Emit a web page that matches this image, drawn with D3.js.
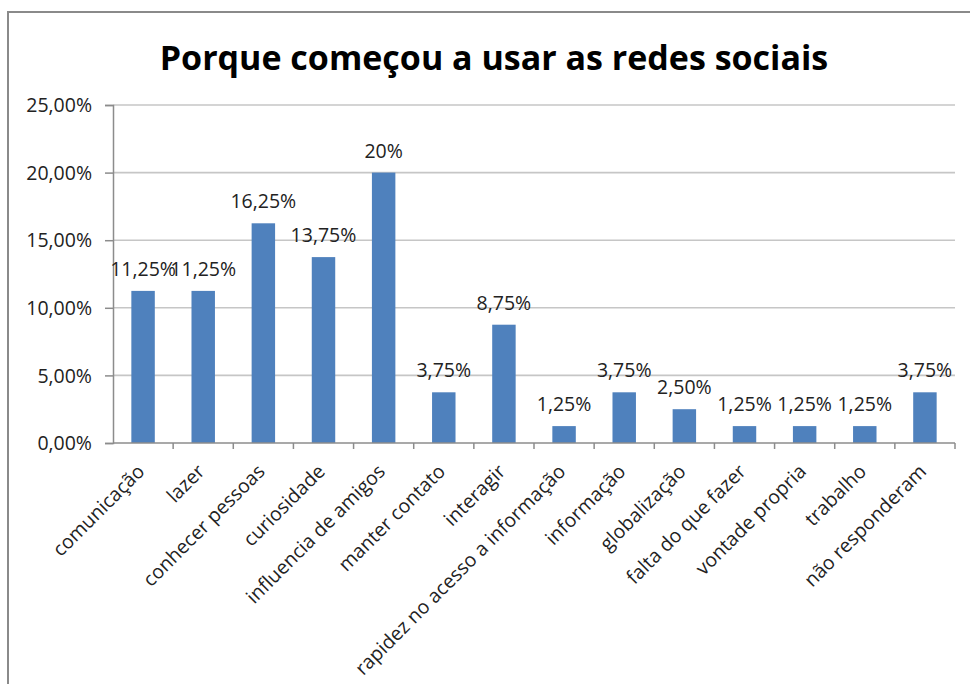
<!DOCTYPE html>
<html>
<head>
<meta charset="utf-8">
<script src="https://cdn.jsdelivr.net/npm/d3@7"></script>
<style>
  html, body { margin: 0; padding: 0; background: #fff; }
  svg { display: block; }
</style>
</head>
<body>
<svg id="chart" width="970" height="684"></svg>
<script>
// Reasons for starting to use social networks (share of respondents, %)
const categories = [
  "comunicação", "lazer", "conhecer pessoas", "curiosidade",
  "influencia de amigos", "manter contato", "interagir",
  "rapidez no acesso a informação", "informação", "globalização",
  "falta do que fazer", "vontade propria", "trabalho", "não responderam"
];
const values = [11.25, 11.25, 16.25, 13.75, 20, 3.75, 8.75, 1.25, 3.75, 2.5, 1.25, 1.25, 1.25, 3.75];
const valueLabels = ["11,25%", "11,25%", "16,25%", "13,75%", "20%", "3,75%", "8,75%",
                     "1,25%", "3,75%", "2,50%", "1,25%", "1,25%", "1,25%", "3,75%"];
const yTicks = [0, 5, 10, 15, 20, 25];
const yTickLabels = ["0,00%", "5,00%", "10,00%", "15,00%", "20,00%", "25,00%"];
const title = "Porque começou a usar as redes sociais";

const svg = d3.select("#chart");
const W = 970, H = 684;
const plot = { left: 113, right: 955, top: 105, bottom: 443 };
const font = "'Open Sans', 'DejaVu Sans', sans-serif";

// frame around the chart area
svg.append("path")
  .attr("d", `M8,${H + 2} L8,12 L${W + 2},12`)
  .attr("fill", "none")
  .attr("stroke", "#8a8a8a")
  .attr("stroke-width", 2);

const x = d3.scaleBand().domain(categories).range([plot.left, plot.right]).paddingInner(0.61).paddingOuter(0.305);
const xOuter = d3.scaleBand().domain(categories).range([plot.left, plot.right]);
const y = d3.scaleLinear().domain([0, 25]).range([plot.bottom, plot.top]);

// title
svg.append("text")
  .attr("x", 494).attr("y", 70)
  .attr("text-anchor", "middle")
  .attr("font-family", font)
  .attr("font-weight", "bold")
  .attr("font-size", 34)
  .attr("fill", "#000")
  .text(title);

// horizontal gridlines
svg.append("g")
  .selectAll("line")
  .data(yTicks.filter(d => d > 0))
  .join("line")
  .attr("x1", plot.left).attr("x2", plot.right)
  .attr("y1", d => y(d)).attr("y2", d => y(d))
  .attr("stroke", "#c6c6c6")
  .attr("stroke-width", 1.6);

// y axis
const yAxis = d3.axisLeft(y)
  .tickValues(yTicks)
  .tickSize(8)
  .tickPadding(13)
  .tickFormat((d, i) => yTickLabels[i]);
const gy = svg.append("g").attr("transform", `translate(${plot.left},0)`).call(yAxis);
gy.select(".domain").attr("stroke", "#8c8c8c").attr("stroke-width", 1.5);
gy.selectAll(".tick line").attr("stroke", "#8c8c8c").attr("stroke-width", 1.5);
gy.selectAll(".tick text")
  .attr("font-family", font).attr("font-size", 19.5).attr("fill", "#222")
  .attr("dy", "0.34em");

// bars
svg.append("g")
  .selectAll("rect")
  .data(values)
  .join("rect")
  .attr("x", (d, i) => x(categories[i]))
  .attr("width", x.bandwidth())
  .attr("y", d => y(d))
  .attr("height", d => y(0) - y(d))
  .attr("fill", "#4f81bd");

// x axis line and boundary ticks
svg.append("line")
  .attr("x1", plot.left).attr("x2", plot.right)
  .attr("y1", plot.bottom).attr("y2", plot.bottom)
  .attr("stroke", "#8c8c8c").attr("stroke-width", 1.5);
svg.append("g")
  .selectAll("line")
  .data(categories)
  .join("line")
  .attr("x1", d => xOuter(d) + xOuter.bandwidth())
  .attr("x2", d => xOuter(d) + xOuter.bandwidth())
  .attr("y1", plot.bottom).attr("y2", plot.bottom + 6)
  .attr("stroke", "#8c8c8c").attr("stroke-width", 1.5);

// category labels, rotated
svg.append("g")
  .selectAll("text")
  .data(categories)
  .join("text")
  .attr("transform", d => `translate(${x(d) + x.bandwidth() / 2 - 7},${plot.bottom + 20}) rotate(-45)`)
  .attr("text-anchor", "end")
  .attr("dy", "0.7em")
  .attr("font-family", font)
  .attr("font-size", 19.5)
  .attr("fill", "#222")
  .text(d => d);

// value labels
svg.append("g")
  .selectAll("text")
  .data(values)
  .join("text")
  .attr("x", (d, i) => x(categories[i]) + x.bandwidth() / 2)
  .attr("y", d => y(d) - 15)
  .attr("text-anchor", "middle")
  .attr("font-family", font)
  .attr("font-size", 19.5)
  .attr("fill", "#222")
  .text((d, i) => valueLabels[i]);
</script>
</body>
</html>
